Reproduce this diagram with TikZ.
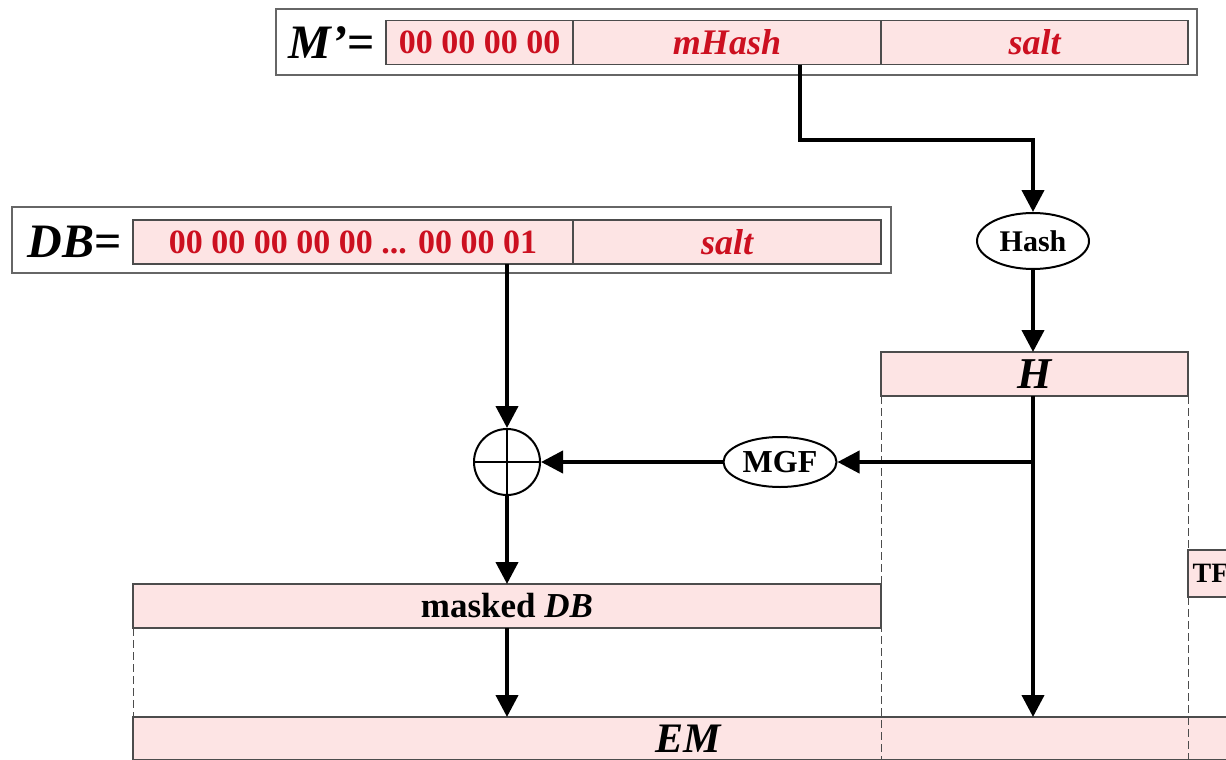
\documentclass[tikz,border=0pt]{standalone}
\usepackage{fontspec}
\setmainfont{Liberation Serif}
\usetikzlibrary{positioning,arrows.meta,shapes.geometric}
\definecolor{fieldpink}{HTML}{FDE4E4}
\definecolor{bytered}{HTML}{CC1020}

\tikzset{
  field/.style={draw=black!70, fill=fieldpink, line width=0.7pt, inner sep=0pt, outer sep=0pt, minimum height=22pt, font=\bfseries},
  holder/.style={draw=black!60, fill=white, line width=0.8pt, inner sep=0pt, minimum height=33pt},
  bytes/.style={text=bytered, font=\fontsize{17}{17}\selectfont\bfseries},
  redit/.style={text=bytered, font=\fontsize{18}{18}\selectfont\bfseries\itshape},
  oval/.style={ellipse, draw, line width=1pt, inner sep=0pt, fill=white},
  flow/.style={line width=2pt, -{Triangle[length=11pt,width=11pt]}},
  guide/.style={dash pattern=on 4pt off 2pt, line width=0.5pt, draw=black!70}
}

\begin{document}
\begin{tikzpicture}[x=0.5pt, y=-0.5pt]
  \path[use as bounding box, clip] (0,0) rectangle (1226,760);
  \coordinate (floor) at (0,760);

  % M' = padding | mHash | salt
  \node[holder, minimum width=460.5pt] (mbox) at (736.5,42) {};
  \node[field, bytes, minimum width=93.5pt] (pad) at (479.5,42.5) {00 00 00 00};
  \node[field, redit, minimum width=154pt, right=0pt of pad] (mhash) {mHash};
  \node[field, redit, minimum width=153.5pt, right=0pt of mhash] (msalt) {salt};
  \node[left=2pt of pad, font=\fontsize{24}{24}\selectfont\bfseries] (mlabel) {\textit{M'}=};

  % DB = PS | 01 | salt
  \node[holder, minimum width=439.5pt] (dbbox) at (451.5,240) {};
  \node[field, bytes, minimum width=220pt] (dbits) at (353,242) {00 00 00 00 00 ... 00 00 01};
  \node[field, redit, minimum width=154pt, right=0pt of dbits] (dsalt) {salt};
  \node[left=2pt of dbits, font=\fontsize{24}{24}\selectfont\bfseries\itshape] (dblabel) {DB\textup{=}};

  % Hash, H, MGF, xor
  \node[oval, minimum width=56pt, minimum height=28pt, font=\fontsize{15}{15}\selectfont\bfseries] (hash) at (1033,241) {Hash};
  \node[field, minimum width=153.5pt, font=\fontsize{22}{22}\selectfont\bfseries\itshape] (hbox) at (1034.5,374) {H};
  \node[oval, minimum width=56.5pt, minimum height=25pt, font=\fontsize{16}{16}\selectfont\bfseries] (mgf) at (780,462) {MGF};
  \node[circle, draw, line width=1pt, minimum size=33pt, inner sep=0pt] (xor) at (507,462) {};
  \draw[line width=0.8pt] (xor.north) -- (xor.south) (xor.west) -- (xor.east);

  % maskedDB, TF, EM
  \node[field, minimum width=374pt, font=\fontsize{17.5}{17.5}\selectfont\bfseries] (masked) at (507,606) {masked \textit{DB}};
  \node[field, anchor=west, minimum width=40pt, minimum height=23.5pt, text width=40pt, align=left, inner xsep=0pt,
        font=\fontsize{14}{14}\selectfont\bfseries] (tf) at (1188,573.5) {\,TF};
  \node[field, minimum width=555pt, minimum height=21.5pt, font=\fontsize{21}{21}\selectfont\bfseries\itshape] (em) at (688,738.5) {EM};

  % Hilfslinien
  \draw[guide] (hbox.south west) -- (hbox.south west |- floor);
  \draw[guide] (hbox.south east) -- (tf.north west);
  \draw[guide] (tf.south west) -- (hbox.south east |- floor);
  \draw[guide] (masked.south west) -- (masked.south west |- floor);

  % Pfeile
  \coordinate (turn) at (800,140);
  \draw[flow] (turn |- mhash.south) -- (turn) -| (hash.north);
  \draw[flow] (hash.south) -- (hash.south |- hbox.north);
  \draw[flow] (hbox.south -| hash) -- (hash |- em.north);
  \coordinate (split) at (1033,462);
  \draw[flow] (split) -- (mgf.east);
  \draw[flow] (mgf.west) -- (xor.east);
  \draw[flow] (xor.north |- dbits.south) -- (xor.north);
  \draw[flow] (xor.south) -- (xor.south |- masked.north);
  \draw[flow] (masked.south) -- (masked.south |- em.north);
\end{tikzpicture}
\end{document}
